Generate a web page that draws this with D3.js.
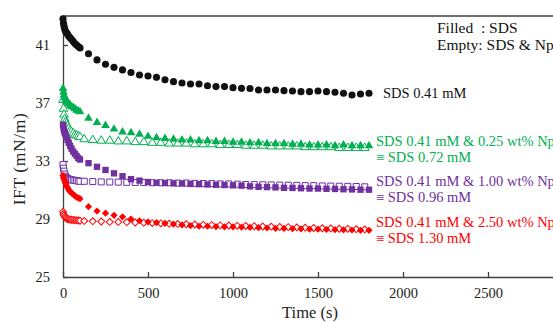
<!DOCTYPE html>
<meta charset="utf-8">
<style>
body{margin:0;background:#fff;}
text{font-family:"Liberation Serif","Times New Roman",serif;}
.axis path,.axis line{stroke:#404040;stroke-width:1.3px;}
.axis text{font-size:14.5px;fill:#222;}
.lbl{font-size:14.5px;}
</style>
<body>
<script src="https://d3js.org/d3.v7.min.js"></script>
<script>

// sample times (s)
var timeFilled=[0,3,6,10,15,20,27,34,42,50,60,70,80,90,100,
150,200,250,300,350,400,450,500,550,600,650,700,750,800,850,900,950,1000,
1050,1100,1150,1200,1250,1300,1350,1400,1450,1500,1550,1600,1650,1700,1750,1800];
var timeEmpty=[0,3,6,10,15,20,27,34,42,50,60,70,80,90,100,
125,175,225,275,325,375,425,475,525,575,625,675,725,775,825,875,925,975,
1025,1075,1125,1175,1225,1275,1325,1375,1425,1475,1525,1575,1625,1675,1725,1775];

// IFT (mN/m), filled = SDS only
var sds041=[42.8,42.5,42.3,42.1,41.95,41.85,41.75,41.6,41.5,41.4,41.25,41.1,41.0,40.9,40.8,
40.4,39.97,39.67,39.46,39.28,39.1,38.93,38.86,38.77,38.6,38.47,38.38,38.31,38.31,38.19,38.13,38.13,38.06,
38.01,38.0,37.9,37.9,37.9,37.85,37.83,37.78,37.78,37.83,37.78,37.74,37.67,37.55,37.62,37.67];
var sds072=[38.0,37.75,37.55,37.4,37.25,37.15,37.05,36.95,36.85,36.75,36.7,36.6,36.5,36.45,36.4,
35.95,35.65,35.45,35.2,35.0,34.95,34.85,34.7,34.6,34.55,34.5,34.45,34.45,34.4,34.4,34.35,34.35,34.3,
34.3,34.25,34.25,34.2,34.2,34.2,34.15,34.15,34.1,34.1,34.1,34.05,34.1,34.05,34.05,34.05];
var sds096=[35.5,35.3,35.1,34.95,34.8,34.65,34.45,34.25,34.05,33.85,33.65,33.5,33.35,33.2,33.1,
32.85,32.6,32.38,32.15,31.95,31.75,31.65,31.55,31.5,31.48,31.46,31.45,31.42,31.4,31.38,31.36,31.34,31.32,
31.3,31.25,31.22,31.2,31.18,31.15,31.14,31.12,31.1,31.1,31.08,31.07,31.05,31.04,31.02,31.02];
var sds130=[32.0,31.85,31.75,31.6,31.45,31.3,31.15,31.0,30.9,30.8,30.7,30.6,30.5,30.45,30.4,
29.85,29.55,29.4,29.25,29.15,29.0,28.88,28.8,28.75,28.7,28.65,28.6,28.55,28.5,28.5,28.48,28.46,28.45,
28.44,28.42,28.4,28.38,28.36,28.35,28.33,28.32,28.3,28.3,28.28,28.26,28.25,28.24,28.22,28.22];

// empty = SDS 0.41 mM & Np
var np025=[37.2,36.6,36.2,35.9,35.7,35.55,35.4,35.25,35.1,35.0,34.9,34.8,34.75,34.7,34.65,
34.5,34.45,34.4,34.4,34.35,34.35,34.3,34.3,34.25,34.25,34.2,34.2,34.2,34.15,34.15,34.15,34.1,34.1,
34.1,34.05,34.05,34.05,34.0,34.0,34.0,34.0,33.95,33.95,33.95,33.95,33.9,33.9,33.9,33.9];
var np100=[32.75,32.5,32.3,32.1,31.95,31.85,31.8,31.75,31.72,31.7,31.68,31.66,31.64,31.62,31.6,
31.6,31.58,31.56,31.55,31.54,31.53,31.52,31.52,31.5,31.5,31.5,31.48,31.48,31.46,31.45,31.44,31.42,31.42,
31.4,31.38,31.37,31.36,31.35,31.34,31.33,31.32,31.3,31.3,31.28,31.27,31.26,31.25,31.24,31.22];
var np250=[29.5,29.35,29.25,29.15,29.1,29.05,29.0,28.98,28.96,28.95,28.93,28.92,28.9,28.9,28.88,
28.87,28.85,28.83,28.8,28.8,28.78,28.76,28.75,28.72,28.7,28.68,28.66,28.64,28.62,28.6,28.58,28.56,28.55,
28.53,28.52,28.5,28.48,28.47,28.45,28.44,28.42,28.4,28.38,28.36,28.35,28.33,28.32,28.3,28.28];

var xTicks=[0,500,1000,1500,2000,2500];
var yTicks=[25,29,33,37,41];

var W=553,H=322;
var svg=d3.select("body").append("svg").attr("width",W).attr("height",H);

var x=d3.scaleLinear().domain([0,3000]).range([63,573]);
var y=d3.scaleLinear().domain([25,43]).range([277,16]);

// top border
svg.append("line").attr("x1",x(0)).attr("x2",x(3000)).attr("y1",y(43)).attr("y2",y(43))
	.attr("stroke","#404040").attr("stroke-width",1.3);

svg.append("g").attr("class","axis").attr("transform","translate(0,"+y(25)+")")
	.call(d3.axisBottom(x).tickValues(xTicks).tickSizeInner(-5).tickSizeOuter(0).tickPadding(11).tickFormat(d3.format("d")));
svg.append("g").attr("class","axis").attr("transform","translate("+x(0)+",0)")
	.call(d3.axisLeft(y).tickValues(yTicks).tickSizeInner(-5).tickSizeOuter(0).tickPadding(13));

svg.append("text").attr("x",310).attr("y",318).attr("text-anchor","middle")
	.style("font-size","16.5px").attr("fill","#222").text("Time (s)");
svg.append("text").attr("transform","translate(25,159) rotate(-90)").attr("text-anchor","middle")
	.style("font-size","17.5px").style("letter-spacing","0.6px").attr("fill","#222").text("IFT (mN/m)");

var green="#00b050",purple="#7030a0",red="#ff0000";

var series=[
	{t:timeEmpty,v:np025,c:green,shape:d3.symbolTriangle,size:32,fill:false,rot:0},
	{t:timeEmpty,v:np100,c:purple,shape:d3.symbolSquare,size:36,fill:false,rot:0},
	{t:timeEmpty,v:np250,c:red,shape:d3.symbolSquare,size:24,fill:false,rot:45},
	{t:timeFilled,v:sds041,c:"#111",shape:d3.symbolCircle,size:40,fill:true,rot:0},
	{t:timeFilled,v:sds072,c:green,shape:d3.symbolTriangle,size:32,fill:true,rot:0},
	{t:timeFilled,v:sds096,c:purple,shape:d3.symbolSquare,size:40,fill:true,rot:0},
	{t:timeFilled,v:sds130,c:red,shape:d3.symbolSquare,size:26,fill:true,rot:45}
];

series.forEach(function(s){
	var pts=s.t.map(function(t,i){return [t,s.v[i]];});
	svg.append("g").selectAll("path").data(pts).join("path")
		.attr("d",d3.symbol().type(s.shape).size(s.size))
		.attr("transform",d=>"translate("+x(d[0])+","+y(d[1])+") rotate("+s.rot+")")
		.attr("fill",s.fill?s.c:"#fff")
		.attr("stroke",s.c)
		.attr("stroke-width",s.fill?0:1);
});

// legend and labels
var notes=[
	{x:437,y:33,c:"#111",t:"Filled\u00a0\u00a0: SDS",fs:"15.5px"},
	{x:437,y:50,c:"#111",t:"Empty: SDS & Np",fs:"15.5px"},
	{x:383,y:98,c:"#111",t:"SDS 0.41 mM",fs:"14.5px"},
	{x:376,y:146,c:green,t:"SDS 0.41 mM & 0.25 wt% Np",fs:"14.5px"},
	{x:376,y:162,c:green,t:"\u2261 SDS 0.72 mM",fs:"14.5px"},
	{x:376,y:186,c:purple,t:"SDS 0.41 mM & 1.00 wt% Np",fs:"14.5px"},
	{x:376,y:202,c:purple,t:"\u2261 SDS 0.96 mM",fs:"14.5px"},
	{x:376,y:227,c:red,t:"SDS 0.41 mM & 2.50 wt% Np",fs:"14.5px"},
	{x:376,y:243,c:red,t:"\u2261 SDS 1.30 mM",fs:"14.5px"}
];
svg.selectAll("text.lbl").data(notes).join("text").attr("class","lbl")
	.attr("x",d=>d.x).attr("y",d=>d.y).style("font-size",d=>d.fs).attr("fill",d=>d.c).text(d=>d.t);

</script>
</body>
</html>
